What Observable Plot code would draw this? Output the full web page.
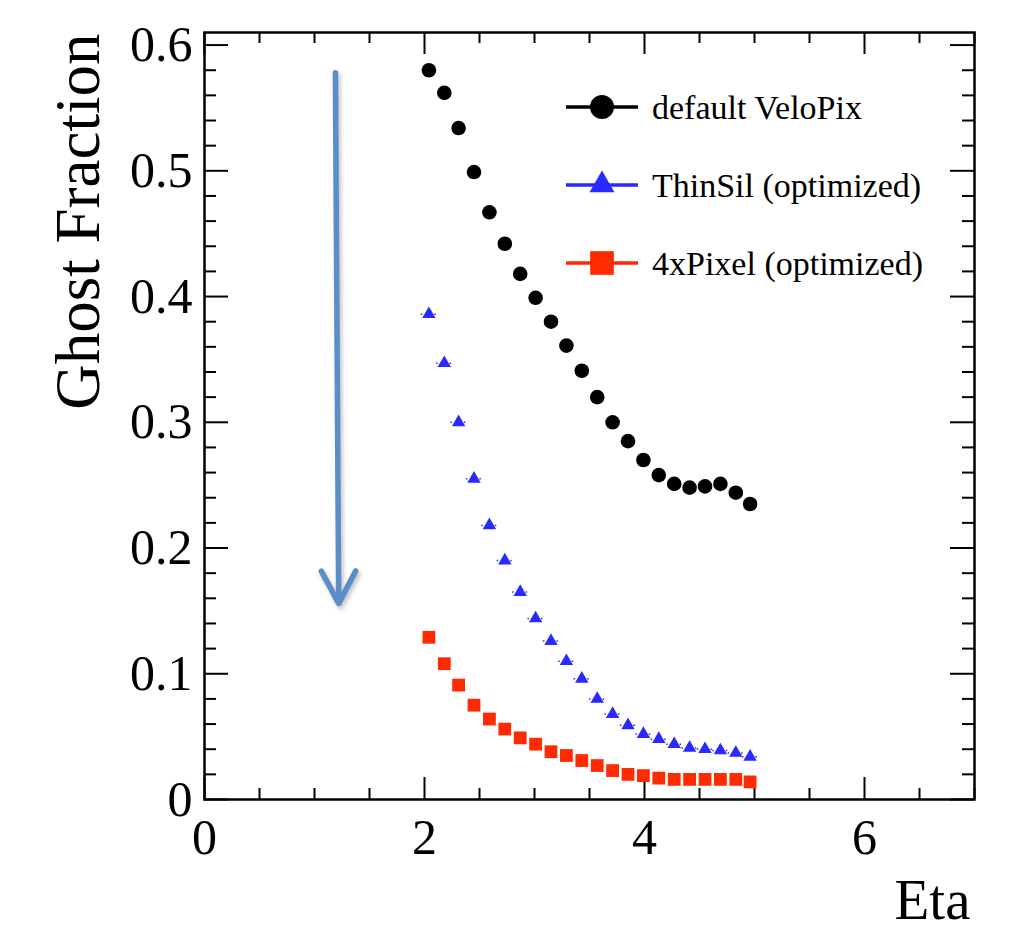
<!DOCTYPE html>
<html><head><meta charset="utf-8">
<script src="https://cdn.jsdelivr.net/npm/d3@7"></script>
<script src="https://cdn.jsdelivr.net/npm/@observablehq/plot@0.6"></script>
<style>
body{margin:0;background:#fff}
#chart svg{display:block}
</style>
</head><body><div id="chart"></div>
<script>
// ---- data ----
const eta = [2.04, 2.18, 2.31, 2.45, 2.59, 2.73, 2.87, 3.01, 3.15, 3.29, 3.43, 3.57, 3.71, 3.85, 3.99, 4.13, 4.27, 4.41, 4.55, 4.69, 4.83, 4.96];
const veloPix = [0.580, 0.562, 0.534, 0.499, 0.467, 0.442, 0.418, 0.399, 0.380, 0.361, 0.341, 0.320, 0.300, 0.285, 0.270, 0.258, 0.251, 0.248, 0.249, 0.251, 0.244, 0.235];
const thinSil = [0.386, 0.347, 0.300, 0.255, 0.218, 0.190, 0.165, 0.144, 0.126, 0.110, 0.096, 0.080, 0.068, 0.059, 0.052, 0.048, 0.044, 0.041, 0.040, 0.039, 0.037, 0.034];
const fourPixel = [0.129, 0.108, 0.091, 0.075, 0.064, 0.056, 0.049, 0.044, 0.038, 0.035, 0.031, 0.027, 0.023, 0.020, 0.019, 0.017, 0.016, 0.016, 0.016, 0.016, 0.016, 0.014];
const seriesNames = ["default VeloPix", "ThinSil (optimized)", "4xPixel (optimized)"];
const seriesColors = ["#000000", "#2a2aff", "#ff2a00"];
const seriesSymbols = ["circle", "triangle", "square"];
const xTickLabels = [0, 2, 4, 6];
const yTickLabels = [0, 0.1, 0.2, 0.3, 0.4, 0.5, 0.6];
const arrowData = [{x1: 1.19, y1: 0.578, x2: 1.22, y2: 0.156}];
const xLabel = "Eta";
const yLabel = "Ghost Fraction";

// ---- layout ----
const W = 1012, H = 931, mL = 204, mR = 38, mT = 32, mB = 132;
const xDom = [0, 7], yDom = [0, 0.61];
const pxY = px => px * (yDom[1] - yDom[0]) / (H - mT - mB);
const pxX = px => px * (xDom[1] - xDom[0]) / (W - mL - mR);
const serif = "'Liberation Serif', 'DejaVu Serif', serif";

const points = [veloPix, thinSil, fourPixel].flatMap((vals, s) =>
  vals.map((v, i) => ({eta: eta[i], value: v, series: s})));
const halfBin = (eta[eta.length - 1] - eta[0]) / (eta.length - 1) / 2;

const xTicks = d3.range(0, 7.001, 0.5).map(v => ({v, len: Math.abs(v % 2) < 1e-9 ? 22 : 11}));
const yTicks = d3.range(0, 0.6001, 0.02).map(v => ({v, len: Math.abs((v * 10) - Math.round(v * 10)) < 1e-6 ? 24 : 12}));

const tickStyle = {stroke: "#000", strokeWidth: 2};
const plot = Plot.plot({
  width: W, height: H,
  marginLeft: mL, marginRight: mR, marginTop: mT, marginBottom: mB,
  style: {fontFamily: serif, fontSize: "50px", background: "#fff", color: "#000"},
  x: {domain: xDom},
  y: {domain: yDom},
  marks: [
    // inward ticks on all four sides
    Plot.ruleX(xTicks, {x: "v", y1: yDom[0], y2: d => yDom[0] + pxY(d.len), ...tickStyle}),
    Plot.ruleX(xTicks, {x: "v", y1: yDom[1], y2: d => yDom[1] - pxY(d.len), ...tickStyle}),
    Plot.ruleY(yTicks, {y: "v", x1: xDom[0], x2: d => xDom[0] + pxX(d.len), ...tickStyle}),
    Plot.ruleY(yTicks, {y: "v", x1: xDom[1], x2: d => xDom[1] - pxX(d.len), ...tickStyle}),
    Plot.frame({stroke: "#000", strokeWidth: 2.5}),
    Plot.axisX({ticks: xTickLabels, tickSize: 0, tickPadding: 19, label: null, fontSize: 50, tickFormat: d => String(d)}),
    Plot.axisY({ticks: yTickLabels, tickSize: 0, tickPadding: 12, label: null, fontSize: 50, tickFormat: d => d === 0 ? "0" : d.toFixed(1)}),
    Plot.text([xLabel], {frameAnchor: "bottom-right", text: d => d, textAnchor: "end", lineAnchor: "middle", dx: -4, dy: 101, fontSize: 57}),
    Plot.text([yLabel], {frameAnchor: "top-left", text: d => d, textAnchor: "end", lineAnchor: "middle", rotate: -90, dx: -126, dy: 1, fontSize: 63}),
    // dotted horizontal error bars (visible for ThinSil)
    Plot.ruleY(points.filter(d => d.series === 1), {y: "value", x1: d => d.eta - halfBin, x2: d => d.eta + halfBin, stroke: seriesColors[1], strokeWidth: 1.5, strokeDasharray: "1.5,3"}),
    Plot.dot(points.filter(d => d.series === 0), {x: "eta", y: "value", r: 7.3, fill: seriesColors[0], symbol: "circle"}),
    Plot.dot(points.filter(d => d.series === 1), {x: "eta", y: "value", r: 5, fill: seriesColors[1], symbol: "triangle"}),
    Plot.dot(points.filter(d => d.series === 2), {x: "eta", y: "value", r: 7.2, fill: seriesColors[2], symbol: "square"}),
    Plot.arrow(arrowData, {x1: "x1", y1: "y1", x2: "x2", y2: "y2", stroke: "#5b8dc9", strokeWidth: 5.5, headLength: 10, headAngle: 56, strokeLinecap: "round", strokeLinejoin: "round"})
  ]
});
document.getElementById("chart").appendChild(plot);

// soft shadow on the arrow
d3.select(plot).selectAll("g[aria-label='arrow']").style("filter", "drop-shadow(2px 3px 2px rgba(0,0,0,0.25))");

// ---- legend (inside the frame, top right) ----
const svg = d3.select(plot);
const leg = svg.append("g").attr("font-family", serif).attr("font-size", 34).attr("text-anchor", "start");
seriesNames.forEach((name, i) => {
  const cy = 107 + 78 * i;
  const g = leg.append("g");
  g.append("line").attr("x1", 566).attr("x2", 638).attr("y1", cy).attr("y2", cy)
    .attr("stroke", seriesColors[i]).attr("stroke-width", 3.5);
  const sizes = [Math.PI * 12 * 12, 270, 560];
  const sym = [d3.symbolCircle, d3.symbolTriangle, d3.symbolSquare][i];
  g.append("path").attr("d", d3.symbol(sym, sizes[i])())
    .attr("transform", `translate(602,${cy})`).attr("fill", seriesColors[i]);
  g.append("text").attr("x", 652).attr("y", cy + 12).attr("fill", "#000")
    .attr("text-anchor", "start").text(name);
});
</script>
</body></html>
